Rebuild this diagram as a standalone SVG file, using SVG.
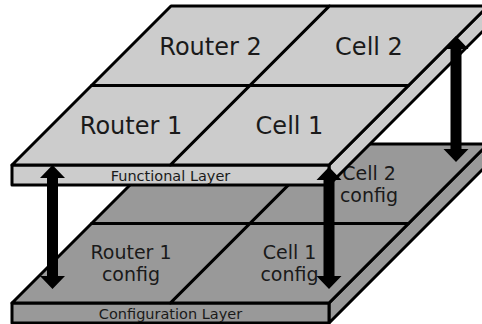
<svg xmlns="http://www.w3.org/2000/svg" width="482" height="324" viewBox="0 0 482 324">
<style>
  .edge { stroke: #000; stroke-width: 3; stroke-linejoin: round; }
  .fn { fill: #cccccc; }
  .cf { fill: #999999; }
  .big { font-family: "DejaVu Sans", sans-serif; font-size: 24px; text-anchor: middle; fill: #1a1a1a; }
  .mid { font-family: "DejaVu Sans", sans-serif; font-size: 19px; text-anchor: middle; fill: #1a1a1a; }
  .lbl { font-family: "DejaVu Sans", sans-serif; font-size: 14.5px; text-anchor: middle; fill: #1a1a1a; }
  .arrow { fill: #000; stroke: none; }
</style>
<rect width="482" height="324" fill="#ffffff"/>

<!-- Configuration layer -->
<g id="configuration-layer">
  <polygon class="edge cf" points="329,303 488,144 488,164 329,323"/>
  <rect class="edge cf" x="12" y="303" width="317" height="20"/>
  <text class="lbl" x="170.5" y="318.5">Configuration Layer</text>
  <g id="router2-config">
    <polygon class="edge cf" points="171,144 329.5,144 250,223.5 91.5,223.5"/>
  </g>
  <g id="cell2-config">
    <polygon class="edge cf" points="329.5,144 488,144 408.5,223.5 250,223.5"/>
    <text class="mid" x="369" y="179.5">Cell 2</text>
    <text class="mid" x="369" y="202">config</text>
  </g>
  <g id="router1-config">
    <polygon class="edge cf" points="91.5,223.5 250,223.5 170.5,303 12,303"/>
    <text class="mid" x="131" y="258.5">Router 1</text>
    <text class="mid" x="131" y="281">config</text>
  </g>
  <g id="cell1-config">
    <polygon class="edge cf" points="250,223.5 408.5,223.5 329,303 170.5,303"/>
    <text class="mid" x="289.5" y="258.5">Cell 1</text>
    <text class="mid" x="289.5" y="281">config</text>
  </g>
</g>

<!-- Functional layer -->
<g id="functional-layer">
  <polygon class="edge fn" points="329,165 488,6 488,26 329,185"/>
  <rect class="edge fn" x="12" y="165" width="317" height="20"/>
  <text class="lbl" x="170.5" y="180.5">Functional Layer</text>
  <g id="router2">
    <polygon class="edge fn" points="171,6 329.5,6 250,85.5 91.5,85.5"/>
    <text class="big" x="210.5" y="54.5">Router 2</text>
  </g>
  <g id="cell2">
    <polygon class="edge fn" points="329.5,6 488,6 408.5,85.5 250,85.5"/>
    <text class="big" x="369" y="54.5">Cell 2</text>
  </g>
  <g id="router1">
    <polygon class="edge fn" points="91.5,85.5 250,85.5 170.5,165 12,165"/>
    <text class="big" x="131" y="134">Router 1</text>
  </g>
  <g id="cell1">
    <polygon class="edge fn" points="250,85.5 408.5,85.5 329,165 170.5,165"/>
    <text class="big" x="289.5" y="134">Cell 1</text>
  </g>
</g>

<!-- Connectors -->
<g id="connectors">
  <path class="arrow" d="M52.5,165 L65,178 L58,178 L58,276 L65,276 L52.5,289 L40,276 L47,276 L47,178 L40,178 Z"/>
  <path class="arrow" d="M329,167 L341.5,180 L334.5,180 L334.5,276 L341.5,276 L329,289 L316.5,276 L323.5,276 L323.5,180 L316.5,180 Z"/>
  <path class="arrow" d="M456,36 L468.5,49 L461.5,49 L461.5,149 L468.5,149 L456,162 L443.5,149 L450.5,149 L450.5,49 L443.5,49 Z"/>
</g>
</svg>
